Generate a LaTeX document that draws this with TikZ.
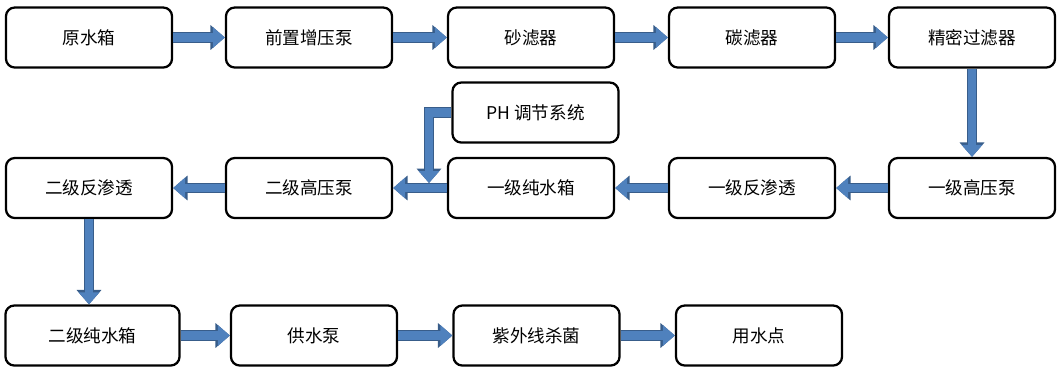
\documentclass[tikz,border=0pt]{standalone}
\usepackage{fontspec}
\setmainfont{Noto Sans CJK SC}
\usetikzlibrary{arrows.meta}
\definecolor{flowblue}{RGB}{79,129,189}
\definecolor{flowedge}{RGB}{56,93,138}

\tikzset{
  unit/.style={draw, line width=1.6pt, rounded corners=0.22cm, fill=white,
    minimum width=4.15cm, minimum height=1.5cm, inner sep=0pt},
  flow/.style={draw=flowblue, line width=6pt, line join=miter,
    -{Triangle[length=0.3cm,width=0.5cm]},
    preaction={draw=flowedge, line width=7.6pt, line join=miter,
      -{Triangle[length=0.36cm,width=0.6cm]}}},
}

\begin{document}
\begin{tikzpicture}[x=0.025cm, y=-0.025cm, font=\fontsize{12.5}{14}\selectfont]
  \useasboundingbox (0,0) rectangle (1062,371);
  % first row
  \node[unit] (yuan) at (89,37.5) {原水箱};
  \node[unit] (zengya) at (309,37.5) {前置增压泵};
  \node[unit] (shalv) at (531,37.5) {砂滤器};
  \node[unit] (tanlv) at (752,37.5) {碳滤器};
  \node[unit] (jingmi) at (972,37.5) {精密过滤器};
  % second row
  \node[unit] (ergyfs) at (89,188) {二级反渗透};
  \node[unit] (ergyb) at (309,188) {二级高压泵};
  \node[unit] (yichun) at (531,188) {一级纯水箱};
  \node[unit] (yifs) at (752,188) {一级反渗透};
  \node[unit] (yigyb) at (972,188) {一级高压泵};
  \node[unit] (ph) at (535.5,112.5) {PH 调节系统};
  % third row
  \node[unit, minimum width=4.35cm] (erchun) at (92.5,335.5) {二级纯水箱};
  \node[unit] (gongshui) at (314,335.5) {供水泵};
  \node[unit] (ziwai) at (536.5,335.5) {紫外线杀菌};
  \node[unit] (yongshui) at (759,335.5) {用水点};
  \coordinate (phdrop) at (429,183);

  \draw[flow] (yuan) -- (zengya);
  \draw[flow] (zengya) -- (shalv);
  \draw[flow] (shalv) -- (tanlv);
  \draw[flow] (tanlv) -- (jingmi);
  \draw[flow] (jingmi) -- (yigyb);
  \draw[flow] (yigyb) -- (yifs);
  \draw[flow] (yifs) -- (yichun);
  \draw[flow] (yichun) -- (ergyb);
  \draw[flow] (ergyb) -- (ergyfs);
  \draw[flow] (ph.west) -| (phdrop);
  \draw[flow] (ergyfs) -- (ergyfs |- erchun.north);
  \draw[flow] (erchun) -- (gongshui);
  \draw[flow] (gongshui) -- (ziwai);
  \draw[flow] (ziwai) -- (yongshui);
\end{tikzpicture}
\end{document}
